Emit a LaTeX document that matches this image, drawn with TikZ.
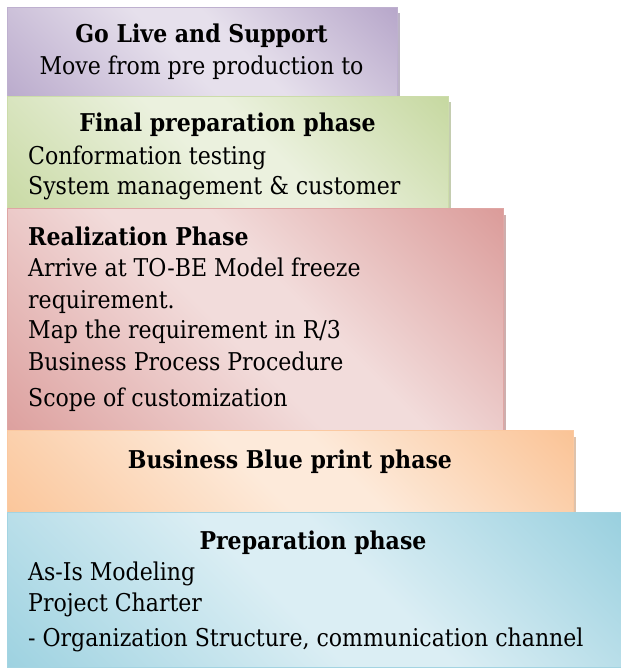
\documentclass[tikz,border=0pt]{standalone}
\usepackage{fontspec}
\setmainfont{DejaVu Serif Condensed}
\usetikzlibrary{shadows}
\definecolor{lived}{HTML}{B3A2C7}
\definecolor{livel}{HTML}{E6E0EC}
\definecolor{finald}{HTML}{C3D69B}
\definecolor{finall}{HTML}{EBF1DE}
\definecolor{reald}{HTML}{D99694}
\definecolor{reall}{HTML}{F2DCDB}
\definecolor{bpd}{HTML}{FAC090}
\definecolor{bpl}{HTML}{FDEADA}
\definecolor{prepd}{HTML}{93CDDD}
\definecolor{prepl}{HTML}{DBEEF4}
\newcommand\phaseshade[1]{%
    \colorlet{#1m}{#1d!92!#1l}%
    \pgfdeclarehorizontalshading{#1s}{100bp}{color(0bp)=(#1m); color(12bp)=(#1m); color(46bp)=(#1l); color(56bp)=(#1l); color(88bp)=(#1d); color(100bp)=(#1d)}}
\phaseshade{live}
\phaseshade{final}
\phaseshade{real}
\phaseshade{bp}
\phaseshade{prep}

\begin{document}
\begin{tikzpicture}[
    x=1pt, y=-1pt,
    font=\fontsize{24.5pt}{29pt}\selectfont,
    b/.style={
        draw=#1d!85!white, line width=1pt,
        shading=#1s, shading angle=45,
        drop shadow={shadow xshift=2.5pt, shadow yshift=-6pt,
            fill=#1d!80!black, opacity=0.6},
        inner sep=0pt, anchor=north west
    },
    h/.style={
        anchor=base, inner sep=0pt, font=\fontsize{24.5pt}{29pt}\selectfont\bfseries
    },
    t/.style={
        anchor=base west, inner sep=0pt
    }
]

    \useasboundingbox (0,0) rectangle (620,668);

    \node [b=live,  minimum width=390pt, minimum height=89pt]  (live)  at (7,  7) {};
    \node [b=final, minimum width=441pt, minimum height=112pt] (final) at (7, 96) {};
    \node [b=real,  minimum width=496pt, minimum height=222pt] (real)  at (7,208) {};
    \node [b=bp,    minimum width=566pt, minimum height=82pt]  (bp)    at (7,430) {};
    \node [b=prep,  minimum width=616pt, minimum height=155pt] (prep)  at (7,512) {};

    \node [h]            (liveH)  at (201.5, 43) {Go Live and Support};
    \node [h,font=\fontsize{24.5pt}{29pt}\selectfont] (live1) at (201.5, 75) {Move from pre production to};

    \node [h]            (finalH) at (227.5,132) {Final preparation phase};
    \node [t]            (final1) at (28,165) {Conformation testing};
    \node [t]            (final2) at (28,195) {System management \& customer};

    \node [t,font=\fontsize{24.5pt}{29pt}\selectfont\bfseries] (realH) at (28,245) {Realization Phase};
    \node [t]            (real1)  at (28,276) {Arrive at TO-BE Model freeze};
    \node [t]            (real2)  at (28,308) {requirement.};
    \node [t]            (real3)  at (28,338) {Map the requirement in R/3};
    \node [t]            (real4)  at (28,370) {Business Process Procedure};
    \node [t]            (real5)  at (28,406) {Scope of customization};

    \node [h]            (bpH)    at (290,468) {Business Blue print phase};

    \node [h]            (prepH)  at (313,549) {Preparation phase};
    \node [t]            (prep1)  at (28,580) {As-Is Modeling};
    \node [t]            (prep2)  at (28,611) {Project Charter};
    \node [t]            (prep3)  at (28,646) {- Organization Structure, communication channel};

\end{tikzpicture}
\end{document}
